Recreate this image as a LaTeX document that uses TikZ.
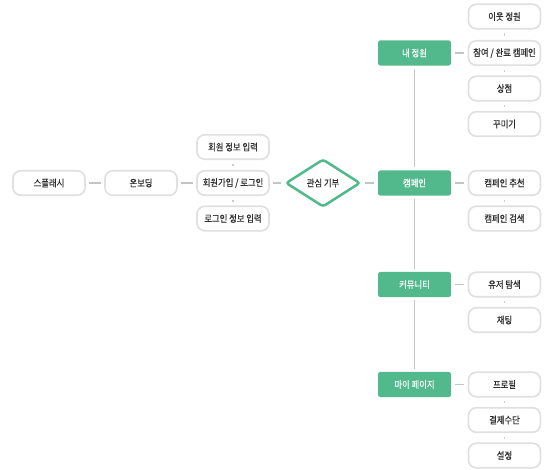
\documentclass[tikz,border=0pt]{standalone}
\usepackage{fontspec}
\setmainfont{Noto Sans CJK KR}[FakeStretch=0.87, FakeBold=0.5]
\usetikzlibrary{shapes.geometric}
\definecolor{flowgreen}{HTML}{52B98D}
\definecolor{flowink}{HTML}{2E2E2E}
\definecolor{flowedge}{HTML}{E0E0E0}
\definecolor{flowline}{HTML}{C4C4C4}
\definecolor{flowstub}{HTML}{CCCCCC}

\begin{document}
\begin{tikzpicture}[
  x=0.025cm,
  y=-0.025cm,
  every node/.style={font=\fontsize{6.8}{8}\selectfont, inner sep=0pt},
  leaf/.style={draw=flowedge, line width=1.2pt, fill=white, rounded corners=5.5pt,
    minimum width=51.2pt, minimum height=17.4pt, text=flowink},
  menu/.style={fill=flowgreen, rounded corners=1.5pt,
    minimum width=51.8pt, minimum height=17.8pt, text=white},
  choice/.style={diamond, draw=flowgreen, line width=1.8pt, fill=white, rounded corners=2pt,
    minimum width=53pt, minimum height=34pt, text=flowink},
  link/.style={flowline, line width=1.1pt, shorten <=2.5pt, shorten >=2.5pt},
  spine/.style={flowline, line width=1.4pt, shorten <=2.2pt, shorten >=2.2pt},
  stub/.style={flowstub, line width=0.9pt, shorten <=2.6pt, shorten >=2.6pt}
]
  \useasboundingbox[fill=white] (0,0) rectangle (546,469);

  % entry flow
  \node[leaf] (splash) at (49,183) {스플래시};
  \node[leaf] (onboard) at (141,183) {온보딩};
  \node[leaf] (signup) at (233,183) {회원가입 / 로그인};
  \node[leaf] (signinfo) at (233,147) {회원 정보 입력};
  \node[leaf] (logininfo) at (233,218.5) {로그인 정보 입력};
  \node[choice] (interest) at (323,183) {관심 기부};

  % main menu
  \node[menu] (garden) at (414.5,53) {내 정원};
  \node[menu] (campaign) at (414.5,183) {캠페인};
  \node[menu] (community) at (414.5,284.5) {커뮤니티};
  \node[menu] (mypage) at (414.5,384.5) {마이 페이지};

  % sub pages
  \node[leaf] (neighbor) at (504.5,16.5) {이웃 정원};
  \node[leaf] (joined) at (504.5,53) {참여 / 완료 캠페인};
  \node[leaf] (shop) at (504.5,88.5) {상점};
  \node[leaf] (decorate) at (504.5,124) {꾸미기};
  \node[leaf] (recommend) at (504.5,183) {캠페인 추천};
  \node[leaf] (search) at (504.5,218.5) {캠페인 검색};
  \node[leaf] (usersearch) at (504.5,284.5) {유저 탐색};
  \node[leaf] (chat) at (504.5,320) {채팅};
  \node[leaf] (profile) at (504.5,384.5) {프로필};
  \node[leaf] (payment) at (504.5,420) {결제수단};
  \node[leaf] (settings) at (504.5,455.5) {설정};

  \draw[link] (splash) -- (onboard);
  \draw[link] (onboard) -- (signup);
  \draw[link] (signup) -- (interest);
  \draw[link] (interest) -- (campaign);
  \draw[stub] (signinfo) -- (signup);
  \draw[stub] (signup) -- (logininfo);

  \draw[spine] (garden) -- (campaign);
  \draw[spine] (campaign) -- (community);
  \draw[spine] (community) -- (mypage);

  \draw[link] (garden) -- (joined);
  \draw[link] (campaign) -- (recommend);
  \draw[link] (community) -- (usersearch);
  \draw[link] (mypage) -- (profile);

  \draw[stub] (neighbor) -- (joined);
  \draw[stub] (joined) -- (shop);
  \draw[stub] (shop) -- (decorate);
  \draw[stub] (recommend) -- (search);
  \draw[stub] (usersearch) -- (chat);
  \draw[stub] (profile) -- (payment);
  \draw[stub] (payment) -- (settings);
\end{tikzpicture}
\end{document}
